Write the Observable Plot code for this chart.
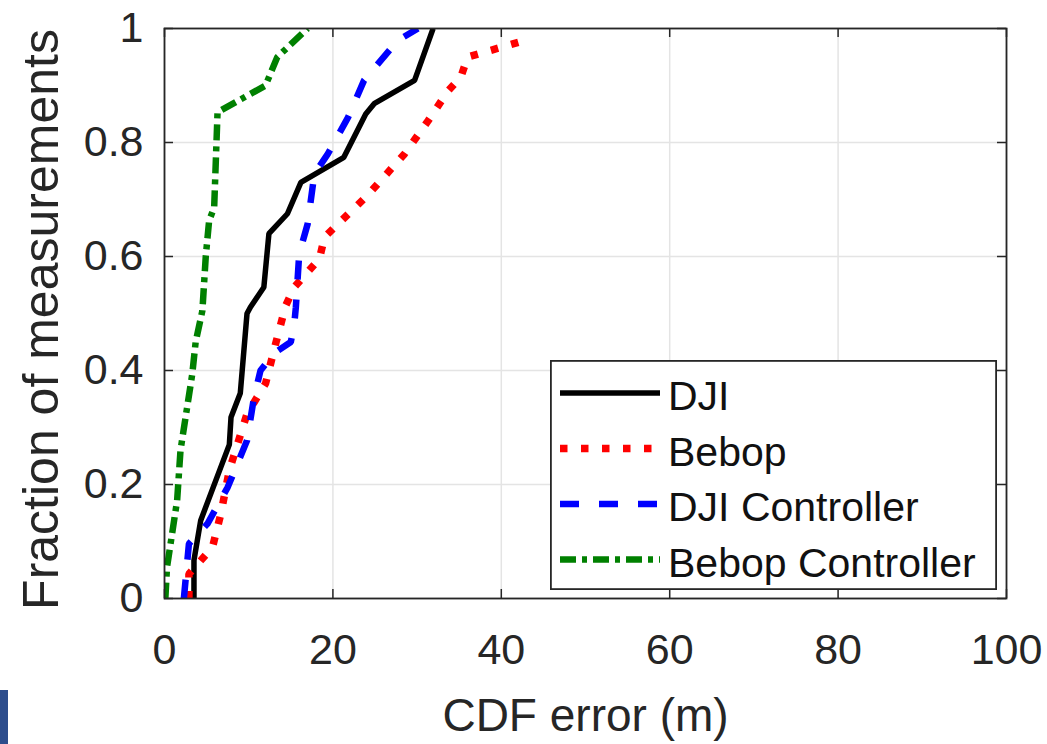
<!DOCTYPE html>
<html><head><meta charset="utf-8">
<script src="https://cdn.jsdelivr.net/npm/d3@7"></script>
<script src="https://cdn.jsdelivr.net/npm/@observablehq/plot@0.6"></script>
<style>
body{margin:0;background:#fff;}
#wrap{position:relative;width:1047px;height:744px;overflow:hidden;font-family:"Liberation Sans",Arial,sans-serif;background:#fff;}
#legend{position:absolute;left:550px;top:360px;width:447px;height:230px;}
#edge{position:absolute;left:0;top:690px;width:8px;height:54px;background:#2d4d8c;}
</style></head>
<body><div id="wrap"><div id="edge"></div></div>
<script>
// ---- data ----
const seriesNames = ["DJI", "Bebop", "DJI Controller", "Bebop Controller"];
const seriesColors = ["#000000", "#ff0000", "#0000ff", "#008000"];

const djiErr  = [3.5, 3.5, 4.3, 7.7, 7.9, 9.0, 9.8, 10.2, 11.8, 12.4, 14.6, 16.2, 21.3, 23.9, 24.9, 29.7, 31.9];
const djiFrac = [0, 0.067, 0.137, 0.27, 0.318, 0.36, 0.5, 0.511, 0.546, 0.64, 0.675, 0.73, 0.774, 0.85, 0.868, 0.909, 1.0];

const bebopErr  = [2.9, 2.9, 5.7, 6.7, 7.7, 9.8, 12.0, 13.2, 14.4, 15.4, 18.4, 19.0, 20.6, 24.1, 28.5, 31.3, 33.7, 35.2, 36.0, 42.8];
const bebopFrac = [0, 0.043, 0.09, 0.149, 0.225, 0.324, 0.377, 0.447, 0.514, 0.546, 0.596, 0.634, 0.657, 0.707, 0.78, 0.838, 0.891, 0.915, 0.95, 0.979];

const djiCtrlErr  = [2.3, 2.9, 5.1, 7.5, 9.8, 10.6, 11.4, 13.0, 15.0, 15.4, 15.6, 16.0, 17.0, 17.8, 19.4, 21.8, 23.7, 27.7, 30.1];
const djiCtrlFrac = [0, 0.096, 0.131, 0.195, 0.277, 0.35, 0.4, 0.43, 0.45, 0.48, 0.511, 0.605, 0.657, 0.745, 0.78, 0.844, 0.909, 0.979, 1.0];

const bebopCtrlErr  = [0.1, 0.3, 1.5, 1.9, 3.3, 3.7, 4.5, 4.9, 5.3, 5.9, 6.3, 12.0, 13.4, 17.0];
const bebopCtrlFrac = [0, 0.055, 0.172, 0.26, 0.394, 0.45, 0.505, 0.6, 0.663, 0.686, 0.853, 0.90, 0.95, 1.0];

const xTicks = [0, 20, 40, 60, 80, 100];
const yTicks = [0, 0.2, 0.4, 0.6, 0.8, 1];
const xLabel = "CDF error (m)";
const yLabel = "Fraction of measurements";

// ---- styling ----
const lineStyles = [
  {strokeWidth: 5.5, dash: null, cap: "butt"},
  {strokeWidth: 7.5, dash: "7.5,13.5", cap: "butt"},
  {strokeWidth: 6.5, dash: "19,20", cap: "butt"},
  {strokeWidth: 6.5, dash: "16,6,5,6", cap: "butt"}
];
const allErr = [djiErr, bebopErr, djiCtrlErr, bebopCtrlErr];
const allFrac = [djiFrac, bebopFrac, djiCtrlFrac, bebopCtrlFrac];

const W = 1047, H = 744;
const mL = 164, mR = 41, mT = 28, mB = 146;
const innerW = W - mL - mR, innerH = H - mT - mB;
const axisColor = "#262626";
const font = '"Liberation Sans", Arial, sans-serif';

const lineMarks = seriesNames.map((name, k) => {
  const rows = allErr[k].map((e, i) => ({err: e, frac: allFrac[k][i]}));
  const s = lineStyles[k];
  return Plot.line(rows, {
    x: "err", y: "frac", stroke: seriesColors[k], strokeWidth: s.strokeWidth,
    strokeDasharray: s.dash, strokeLinecap: s.cap, strokeLinejoin: "miter", clip: true
  });
});

const tickLen = 9;
const chart = Plot.plot({
  width: W, height: H,
  marginLeft: mL, marginRight: mR, marginTop: mT, marginBottom: mB,
  style: {fontFamily: font, fontSize: "43px", color: axisColor, background: "transparent", overflow: "visible"},
  x: {domain: [0, 100]},
  y: {domain: [0, 1]},
  marks: [
    Plot.gridX(xTicks, {stroke: "#e4e4e4", strokeOpacity: 1, strokeWidth: 1.5}),
    Plot.gridY(yTicks, {stroke: "#e4e4e4", strokeOpacity: 1, strokeWidth: 1.5}),
    Plot.tickX(xTicks, {x: d => d, insetTop: innerH - tickLen, stroke: axisColor, strokeWidth: 1.5}),
    Plot.tickX(xTicks, {x: d => d, insetBottom: innerH - tickLen, stroke: axisColor, strokeWidth: 1.5}),
    Plot.tickY(yTicks, {y: d => d, insetRight: innerW - tickLen, stroke: axisColor, strokeWidth: 1.5}),
    Plot.tickY(yTicks, {y: d => d, insetLeft: innerW - tickLen, stroke: axisColor, strokeWidth: 1.5}),
    ...lineMarks,
    Plot.frame({stroke: axisColor, strokeWidth: 1.8}),
    Plot.axisX(xTicks, {tickSize: 0, tickPadding: 35, label: null, fontSize: 43, fill: axisColor}),
    Plot.axisY(yTicks, {tickSize: 0, tickPadding: 21, label: null, fontSize: 43, fill: axisColor, tickFormat: d => String(d)}),
    Plot.text([xLabel], {text: d => d, frameAnchor: "bottom", dy: 118, fontSize: 46, fill: axisColor, lineAnchor: "middle", textAnchor: "middle"}),
    Plot.text([yLabel], {text: d => d, frameAnchor: "left", dx: -123, dy: 6, rotate: -90, fontSize: 50, fill: axisColor, lineAnchor: "middle", textAnchor: "middle"})
  ]
});
const wrap = document.getElementById("wrap");
wrap.insertBefore(chart, wrap.firstChild);

// ---- legend (HTML overlay, drawn with d3) ----
const leg = d3.select(wrap).append("div").attr("id", "legend");
const lsvg = leg.append("svg").attr("width", 447).attr("height", 230);
lsvg.append("rect").attr("x", 0.9).attr("y", 0.9).attr("width", 445.2).attr("height", 228.2)
  .attr("fill", "#fff").attr("stroke", axisColor).attr("stroke-width", 1.8);
seriesNames.forEach((name, k) => {
  const cy = 33 + k * 55.5;
  const s = lineStyles[k];
  lsvg.append("line").attr("x1", 10).attr("x2", 110).attr("y1", cy).attr("y2", cy)
    .attr("stroke", seriesColors[k]).attr("stroke-width", s.strokeWidth)
    .attr("stroke-dasharray", s.dash).attr("stroke-linecap", s.cap);
  lsvg.append("text").attr("x", 118).attr("y", cy + 3).attr("dy", "0.35em")
    .attr("font-family", font).attr("font-size", 41).attr("fill", "#111").text(name);
});
</script>
</body></html>
